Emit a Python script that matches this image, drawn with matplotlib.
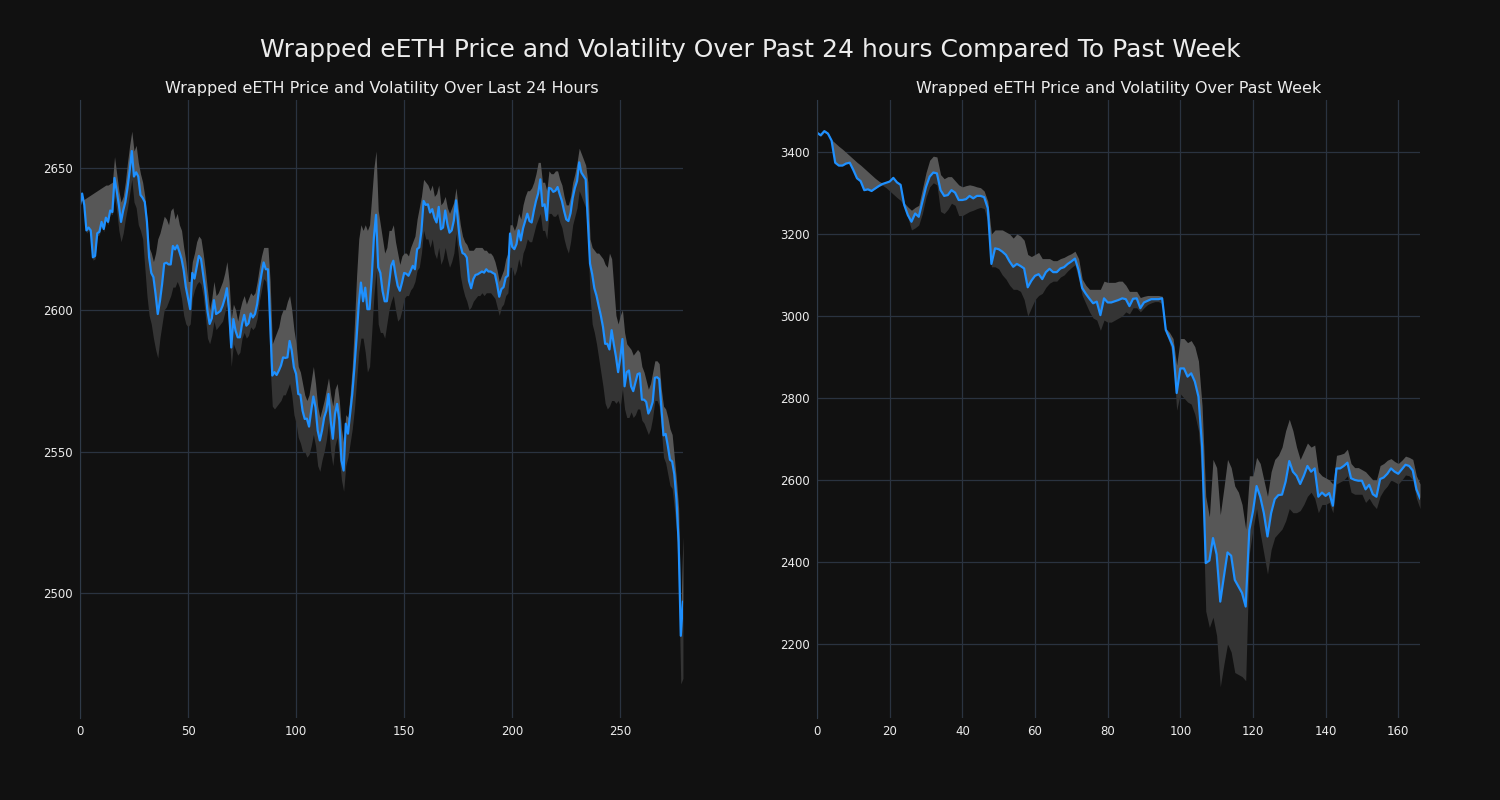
import matplotlib
matplotlib.use("Agg")
import matplotlib.pyplot as plt

# last 24 hours (index 0..279)
day_price = [
    2637, 2641, 2637, 2628, 2629, 2628, 2618.5, 2619, 2627, 2627.5,
    2631, 2628.5, 2632.5, 2631, 2635, 2634.5, 2646.5, 2642, 2637, 2631,
    2635, 2638, 2643, 2649, 2656, 2647, 2648.5, 2647, 2640.5, 2639.5,
    2638, 2631, 2618.5, 2613, 2611.5, 2605.5, 2598.5, 2603, 2609, 2616.3,
    2616.6, 2616, 2616, 2622.5, 2621.3, 2622.7, 2620.5, 2618, 2614, 2608,
    2604, 2600.2, 2613, 2611, 2615, 2619, 2618, 2612.6, 2607, 2599.6,
    2595, 2597, 2603.4, 2598.5, 2599, 2599.6, 2601.4, 2604, 2607.6, 2599.6,
    2586.7, 2596.7, 2592.6, 2590.3, 2590.3, 2595, 2598.2, 2594.4, 2595.2, 2598.7,
    2597.3, 2598.5, 2602, 2608, 2612.6, 2616.7, 2614.3, 2614.3, 2596, 2576.8,
    2578, 2577, 2578.5, 2580.3, 2583.2, 2583, 2583.2, 2589, 2585.6, 2579.7,
    2577.4, 2570.3, 2570, 2564.4, 2561.5, 2561.6, 2558.8, 2564.4, 2569.4, 2565.6,
    2557.4, 2553.9, 2557.4, 2562, 2564.4, 2570.3, 2561, 2554.5, 2563.3, 2566.8,
    2561, 2546.8, 2543.3, 2559.8, 2556.3, 2563.3, 2570.3, 2579.7, 2590.2, 2602,
    2609.6, 2603, 2607.8, 2600.2, 2600.2, 2611.4, 2625.5, 2633.5, 2615, 2613,
    2606.7, 2603, 2603, 2609, 2615.5, 2617.3, 2612.5, 2608.5, 2606.7, 2609.6,
    2613, 2612.7, 2612, 2613.7, 2615.5, 2614.3, 2621.4, 2622, 2627.8, 2638.4,
    2637, 2637.2, 2634.3, 2635.5, 2632.5, 2630.8, 2636.3, 2628.4, 2629, 2635,
    2630.3, 2627.2, 2628, 2631.5, 2638.6, 2630.3, 2623, 2620, 2619.6, 2618.4,
    2610.2, 2607.6, 2610.8, 2612.3, 2612.5, 2613, 2613.5, 2613.1, 2614.3, 2613.5,
    2613.5, 2613, 2612.6, 2609, 2604.6, 2607.3, 2608, 2611.4, 2612, 2626.9,
    2622.2, 2621.4, 2623.2, 2628, 2624.5, 2628.7, 2631.3, 2633.9, 2631.3, 2630.8,
    2634.9, 2638.4, 2641, 2646, 2636.6, 2637.2, 2631.6, 2643, 2642.7, 2641.6,
    2642, 2643.3, 2640.7, 2638.4, 2634.9, 2631.9, 2631.3, 2634.1, 2639.5, 2643,
    2645.4, 2652, 2648.4, 2647.2, 2646, 2631, 2616.3, 2612.6, 2607.6, 2605,
    2601.4, 2598, 2594, 2588, 2588, 2586, 2592.8, 2587.9, 2583.5, 2578,
    2583, 2589.7, 2573, 2578, 2578.6, 2573, 2571.3, 2574.3, 2577.3, 2577.6,
    2568.3, 2568.3, 2567.5, 2563.4, 2565, 2567.5, 2576, 2576.2, 2575.6, 2565.6,
    2555.7, 2556.2, 2552, 2547.1, 2546.5, 2542, 2533, 2518, 2485, 2497,
]
day_high = [
    2638, 2638.5, 2639, 2639.5, 2640, 2640.5, 2641, 2641.5, 2642, 2642.5,
    2643, 2643.5, 2644, 2644, 2644.5, 2645, 2654, 2648, 2642, 2638,
    2640, 2645, 2652, 2658, 2663, 2656, 2658, 2652, 2648, 2645,
    2640, 2632, 2622, 2620, 2617, 2620, 2625, 2627, 2630, 2633,
    2632, 2630, 2635, 2636, 2632, 2634, 2630, 2628, 2622, 2617,
    2610, 2610, 2617, 2620, 2624, 2626, 2625, 2620, 2614, 2607,
    2600, 2604, 2610, 2605, 2606, 2608, 2610, 2613, 2617, 2610,
    2597, 2602, 2600, 2596, 2600, 2603, 2605, 2602, 2604, 2606,
    2605, 2606, 2610, 2615, 2619, 2622, 2622, 2622, 2610, 2588,
    2590, 2592, 2594, 2598, 2600, 2600, 2603, 2605, 2600, 2593,
    2588, 2580, 2578, 2574, 2570, 2568, 2570, 2575, 2580, 2574,
    2566, 2562, 2565, 2568, 2572, 2576, 2570, 2566, 2572, 2574,
    2568, 2558, 2553, 2563, 2562, 2570, 2580, 2595, 2612, 2625,
    2630, 2628, 2630, 2628, 2630, 2640, 2650, 2656, 2635, 2630,
    2625, 2620, 2622, 2628, 2628, 2630, 2624, 2620, 2616, 2619,
    2620, 2620, 2619, 2622, 2624, 2626, 2632, 2636, 2640, 2646,
    2645, 2644, 2642, 2644, 2640, 2641, 2644, 2637, 2638, 2640,
    2636, 2634, 2636, 2638, 2643, 2636, 2630, 2626, 2624, 2623,
    2621, 2621, 2621, 2622, 2622, 2622, 2622, 2621, 2621, 2620,
    2620, 2619, 2617, 2614, 2610, 2612, 2614, 2618, 2620, 2630,
    2630, 2628, 2630, 2634, 2632, 2637, 2640, 2642, 2642, 2643,
    2645, 2648, 2652, 2652, 2645, 2645, 2642, 2649, 2648, 2648,
    2649, 2649, 2646, 2644, 2640, 2637, 2637, 2640, 2645, 2648,
    2652, 2657, 2655, 2653, 2651, 2645, 2625, 2622, 2621, 2620,
    2620, 2619, 2618, 2616, 2615, 2620, 2618, 2608, 2598, 2595,
    2598, 2600, 2592, 2588, 2587, 2586, 2584, 2585, 2586, 2585,
    2580, 2578, 2575, 2572, 2574, 2578, 2582, 2582, 2581, 2572,
    2566, 2565, 2562, 2558, 2556, 2548, 2540, 2530, 2492, 2520,
]
day_low = [
    2636, 2640, 2636, 2627, 2628, 2627, 2617.5, 2618, 2626, 2626.5,
    2630, 2627.5, 2631.5, 2630, 2634, 2633.5, 2640, 2635, 2628, 2624,
    2627, 2632, 2636, 2641, 2646, 2638, 2636, 2630, 2628, 2625,
    2615, 2605, 2598, 2595, 2590, 2586, 2583, 2590, 2595, 2600,
    2601, 2603, 2605, 2608, 2608, 2610, 2608, 2604, 2598, 2595,
    2594, 2595, 2604, 2607, 2609, 2610, 2609, 2605, 2598, 2590,
    2588, 2591, 2596, 2593, 2594, 2595, 2596, 2599, 2602, 2592,
    2580, 2588, 2586, 2584, 2585, 2590, 2592, 2590, 2591, 2594,
    2593, 2594, 2597, 2603, 2607, 2611, 2610, 2605, 2580, 2566,
    2565, 2566, 2567, 2568, 2570, 2570, 2572, 2574, 2570, 2563,
    2560, 2555, 2553, 2550, 2550, 2548, 2549, 2552, 2556, 2552,
    2545, 2543, 2547, 2550, 2554, 2560, 2550, 2545, 2552, 2555,
    2548, 2540, 2536, 2545, 2548, 2553, 2558, 2565, 2575, 2585,
    2590, 2590, 2585, 2578, 2580, 2592, 2605, 2614, 2595, 2592,
    2592, 2590, 2595, 2600, 2603, 2605, 2600, 2596, 2597, 2600,
    2604, 2605, 2605, 2607, 2608, 2610, 2614, 2615, 2620, 2628,
    2625, 2625, 2622, 2625, 2620, 2618, 2622, 2616, 2618, 2622,
    2618, 2615, 2617, 2620, 2627, 2620, 2612, 2608, 2605, 2603,
    2600, 2601, 2603, 2604, 2605, 2605, 2606, 2605, 2606, 2606,
    2606, 2605, 2604, 2601, 2598, 2601, 2602, 2605, 2606, 2615,
    2615, 2612, 2614, 2618, 2615, 2620, 2622, 2625, 2624, 2624,
    2627, 2630, 2632, 2634, 2628, 2628, 2625, 2634, 2634, 2633,
    2633, 2634, 2631, 2629, 2625, 2622, 2620, 2624, 2630, 2633,
    2636, 2642, 2640, 2638, 2636, 2625, 2605, 2595, 2592, 2588,
    2583, 2578, 2573, 2567, 2565, 2566, 2568, 2568, 2567, 2568,
    2566, 2572, 2565, 2562, 2562, 2564, 2562, 2563, 2565, 2565,
    2561, 2560, 2558, 2556, 2558, 2562, 2568, 2568, 2566, 2558,
    2548, 2546, 2542, 2538, 2537, 2530, 2522, 2505, 2468, 2470,
]

# past week (index 0..166)
week_price = [
    3447, 3441, 3451, 3445, 3428, 3374, 3367, 3367, 3372, 3374,
    3356, 3336, 3329, 3307, 3309, 3305, 3311, 3317, 3322, 3325,
    3328, 3337, 3326, 3320, 3271, 3246, 3230, 3250, 3242, 3279,
    3315, 3340, 3350, 3348, 3307, 3293, 3295, 3307, 3301, 3283,
    3283, 3285, 3293, 3287, 3293, 3293, 3290, 3263, 3127, 3165,
    3163, 3157, 3149, 3133, 3120, 3127, 3122, 3116, 3070, 3086,
    3098, 3102, 3090, 3107, 3115, 3107, 3107, 3116, 3119, 3127,
    3133, 3140, 3112, 3068, 3054, 3042, 3031, 3035, 3002, 3043,
    3033, 3033, 3036, 3039, 3043, 3041, 3024, 3042, 3043, 3019,
    3033, 3037, 3041, 3041, 3041, 3043, 2966, 2946, 2925, 2812,
    2872, 2872, 2852, 2860, 2840, 2803, 2681, 2397, 2403, 2458,
    2418, 2303, 2364, 2423, 2415, 2356, 2340, 2324, 2291, 2478,
    2523, 2585, 2559, 2519, 2462, 2519, 2553, 2563, 2564, 2596,
    2646, 2620, 2610, 2590, 2610, 2634, 2620, 2628, 2559, 2569,
    2561, 2568, 2537, 2628, 2628, 2634, 2642, 2604, 2600, 2598,
    2598, 2577, 2588, 2565, 2559, 2602, 2606, 2615, 2628, 2620,
    2615, 2626, 2637, 2634, 2623, 2577, 2555,
]
week_high = [
    3450, 3444, 3454, 3448, 3430, 3422, 3414, 3407, 3399, 3391,
    3383, 3375, 3368, 3360, 3352, 3344, 3336, 3329, 3324, 3325,
    3328, 3337, 3326, 3320, 3276, 3266, 3258, 3265, 3270, 3310,
    3350, 3380, 3390, 3388, 3345, 3335, 3340, 3340, 3330, 3320,
    3315, 3318, 3320, 3318, 3315, 3313, 3305, 3280, 3200, 3210,
    3210, 3210, 3205, 3200, 3190, 3200, 3195, 3185, 3150, 3145,
    3150, 3155, 3140, 3140, 3140, 3135, 3135, 3140, 3143, 3148,
    3152, 3158, 3140, 3090, 3075, 3065, 3065, 3065, 3065, 3085,
    3082, 3082, 3082, 3085, 3085, 3075, 3060, 3060, 3060, 3045,
    3048, 3050, 3050, 3050, 3050, 3048, 2970, 2960, 2945, 2880,
    2945, 2945, 2935, 2940, 2925, 2890, 2780, 2560, 2510, 2650,
    2630, 2515, 2580, 2650, 2630, 2585, 2570, 2540, 2480, 2610,
    2610, 2655, 2640, 2600, 2560, 2620, 2650, 2660, 2680, 2720,
    2748, 2720, 2680, 2650, 2670, 2690, 2680, 2685, 2620, 2610,
    2605, 2600, 2590, 2660, 2662, 2665, 2675, 2640, 2630, 2630,
    2625, 2620, 2610, 2600, 2600, 2635, 2640, 2648, 2652, 2645,
    2640, 2648, 2658, 2655, 2650, 2610, 2590,
]
week_low = [
    3444, 3438, 3448, 3442, 3425, 3374, 3367, 3367, 3372, 3374,
    3356, 3336, 3329, 3307, 3309, 3305, 3311, 3317, 3319, 3313,
    3305, 3297, 3289, 3282, 3266, 3240, 3210, 3215, 3222, 3250,
    3290, 3315, 3325, 3320, 3255, 3250, 3260, 3275, 3270, 3245,
    3245, 3250, 3255, 3258, 3262, 3265, 3262, 3230, 3120, 3120,
    3115, 3100, 3090, 3075, 3065, 3065, 3060, 3040, 3000, 3020,
    3040, 3050, 3055, 3070, 3080, 3085, 3085, 3095, 3100, 3110,
    3118, 3125, 3090, 3050, 3030, 3010, 2995, 2990, 2965, 2990,
    2985, 2985, 2990, 2995, 3000, 3010, 3005, 3020, 3020, 3010,
    3020, 3028, 3032, 3035, 3035, 3030, 2958, 2935, 2900, 2770,
    2810, 2800, 2790, 2785, 2760, 2720, 2600, 2280, 2240, 2265,
    2220, 2095, 2150, 2200, 2180, 2130, 2125, 2120, 2110, 2420,
    2480, 2530, 2470, 2420, 2370, 2430, 2460, 2470, 2480, 2500,
    2530, 2520, 2520, 2525, 2540, 2560, 2570, 2555, 2520, 2540,
    2540, 2545, 2520, 2590, 2595, 2600, 2610, 2570, 2565, 2565,
    2565, 2545, 2555, 2540, 2530, 2560, 2575, 2585, 2600, 2595,
    2590, 2600, 2612, 2610, 2600, 2555, 2530,
]

day_ticks = [2500, 2550, 2600, 2650]
week_ticks = [2200, 2400, 2600, 2800, 3000, 3200, 3400]

BG = '#111111'
GRID = '#2a3340'
LINE = '#1e90ff'
TXT = '#ececec'

fig = plt.figure(figsize=(15, 8), dpi=100)
fig.patch.set_facecolor(BG)
# axes placed to match the reference frame boxes
ax1 = fig.add_axes([0.0533, 0.1025, 0.4020, 0.7725])
ax2 = fig.add_axes([0.5447, 0.1025, 0.4020, 0.7725])


def draw_panel(ax, price, high, low, title, yticks, ylim):
    x = list(range(len(price)))
    ax.set_facecolor(BG)
    # lighter grey above the price, darker below
    ax.fill_between(x, price, high, color='#575757', linewidth=0)
    ax.fill_between(x, low, price, color='#343434', linewidth=0)
    ax.plot(x, price, color=LINE, linewidth=1.6)
    ax.set_xlim(0, len(price) - 1)
    ax.set_ylim(*ylim)
    ax.set_yticks(yticks)
    ax.grid(True, color=GRID, linewidth=0.9)
    ax.set_axisbelow(True)
    for side in ['top', 'right', 'bottom']:
        ax.spines[side].set_visible(False)
    ax.spines['left'].set_color('#2f3a48')
    ax.tick_params(colors=TXT, labelsize=8.5, length=0, pad=5)
    ax.set_title(title, color=TXT, fontsize=11.5, pad=5)


draw_panel(ax1, day_price, day_high, day_low,
           'Wrapped eETH Price and Volatility Over Last 24 Hours',
           day_ticks, (2456, 2674))
draw_panel(ax2, week_price, week_high, week_low,
           'Wrapped eETH Price and Volatility Over Past Week',
           week_ticks, (2019, 3527))

fig.suptitle('Wrapped eETH Price and Volatility Over Past 24 hours Compared To Past Week',
             color=TXT, fontsize=18, y=0.952)

fig.savefig('out.png', facecolor=BG)
